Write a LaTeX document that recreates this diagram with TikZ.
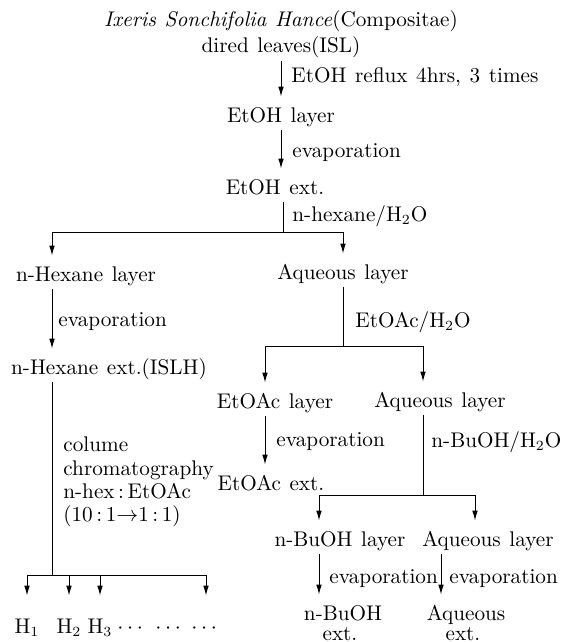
\documentclass[tikz,border=0pt]{standalone}
\usepackage{tikz}
\usepackage{amsmath}
\usetikzlibrary{arrows.meta}

\newcommand{\flowfont}{\fontsize{10.6}{12}\selectfont\spaceskip=4.3pt plus 1pt\relax}

\begin{document}
\begin{tikzpicture}[x=0.5pt, y=-0.5pt, >={Latex[length=5pt, width=2.8pt]}]

% === Estilos ===
\tikzset{
    stage/.style={font=\flowfont, anchor=base,
        text height=8.5pt, text depth=0pt, inner xsep=0pt, inner ysep=4pt},
    note/.style={font=\flowfont, anchor=base west, inner sep=0pt},
    fraction/.style={stage, inner ysep=10pt},
    flow/.style={->, line width=0.5pt},
    link/.style={line width=0.5pt}
}

\useasboundingbox (0,0) rectangle (567,642);

% === Columnas y uniones ===
\coordinate (j1) at (283, 232);
\coordinate (j2) at (343, 346);
\coordinate (j3) at (423, 495);
\coordinate (j4) at (52, 575);
\coordinate (colhex) at (52, 0);
\coordinate (colea) at (265, 0);
\coordinate (colaq) at (423, 0);
\coordinate (colbu) at (319, 0);
\coordinate (colaqin) at (475, 0);
\coordinate (colaqout) at (441, 0);

% === Extracto etanólico ===
\node[stage] (title) at (281, 27) {\textit{Ixeris Sonchifolia Hance}(Compositae)};
\node[stage] (leaves) at (281, 53) {dired leaves(ISL)};
\node[stage] (etohlayer) at (281, 122) {EtOH layer};
\node[stage] (etohext) at (275, 194) {EtOH ext.};

\draw[flow] (leaves.south) -- (leaves.south |- etohlayer.north);
\node[note] at (291, 83) {EtOH reflux 4hrs, 3 times};
\draw[flow] (etohlayer.south) -- (etohlayer.south |- etohext.north);
\node[note] at (292, 157) {evaporation};
\draw[link] (j1 |- etohext.south) -- (j1);
\node[note] at (292, 221) {n-hexane/H$_2$O};

% === Partición n-hexano / agua ===
\node[stage] (hexlayer) at (86, 281) {n-Hexane layer};
\node[stage] (aqone) at (343, 279) {Aqueous layer};
\node[stage] (hexext) at (109, 374) {n-Hexane ext.(ISLH)};

\draw[flow] (j1) -| (colhex |- hexlayer.north);
\draw[flow] (j1) -| (aqone.north);
\draw[flow] (colhex |- hexlayer.south) -- (colhex |- hexext.north);
\node[note] at (58, 326) {evaporation};

% Columna cromatográfica
\draw[link] (colhex |- hexext.south) -- (j4);
\node[note] at (63, 451) {colume};
\node[note] at (63, 475) {chromatography};
\node[note] at (63, 498) {n-hex\,:\,EtOAc};
\node[note] at (63, 521) {(10\,:\,1$\rightarrow$1\,:\,1)};

\node[fraction] (h1) at (27, 633) {H$_1$};
\node[fraction] (h2) at (69, 633) {H$_2$};
\node[fraction] (h3) at (100, 633) {H$_3$};
\node[fraction] (d1) at (132, 633) {$\cdots$};
\node[fraction] (d2) at (170, 633) {$\cdots$};
\node[fraction] (d3) at (206, 633) {$\cdots$};

\draw[flow] (j4) -| (h1.north);
\draw[flow] (j4) -| (h2.north);
\draw[flow] (j4) -| (h3.north);
\draw[flow] (j4) -| (d3.north);

% === Partición EtOAc / agua ===
\draw[link] (aqone.south) -- (j2);
\node[note] at (355, 327) {EtOAc/H$_2$O};

\node[stage] (ealayer) at (275, 408) {EtOAc layer};
\node[stage] (aqtwo) at (440, 407) {Aqueous layer};
\node[stage] (eaext) at (271, 490) {EtOAc ext.};

\draw[flow] (j2) -| (colea |- ealayer.north);
\draw[flow] (j2) -| (colaq |- aqtwo.north);
\draw[flow] (colea |- ealayer.south) -- (colea |- eaext.north);
\node[note] at (276, 446) {evaporation};

% === Partición n-BuOH / agua ===
\draw[link] (colaq |- aqtwo.south) -- (j3);
\node[note] at (431, 447) {n-BuOH/H$_2$O};

\node[stage] (bulayer) at (340, 546) {n-BuOH layer};
\node[stage] (aqthree) at (488, 546) {Aqueous layer};
\node[stage] (bu) at (343, 620) {n-BuOH};
\node[stage] (buext) at (340, 640) {ext.};
\node[stage] (aqfour) at (466, 620) {Aqueous};
\node[stage] (aqext) at (463, 640) {ext.};

\draw[flow] (j3) -| (colbu |- bulayer.north);
\draw[flow] (j3) -| (colaqin |- aqthree.north);
\draw[flow] (colbu |- bulayer.south) -- (colbu |- bu.north);
\node[note] at (329, 583) {evaporation};
\draw[flow] (colaqout |- aqthree.south) -- (colaqout |- aqfour.north);
\node[note] at (449, 583) {evaporation};

\end{tikzpicture}
\end{document}
